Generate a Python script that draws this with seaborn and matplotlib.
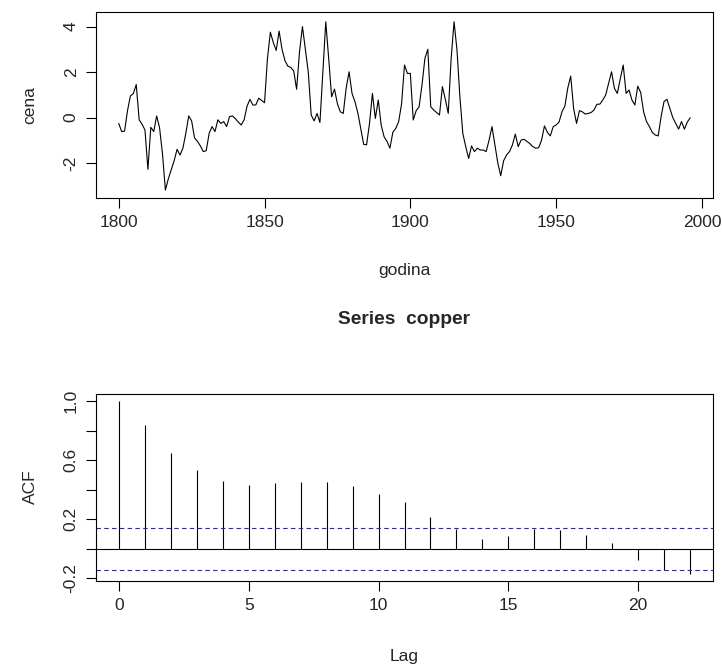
import numpy as np
import pandas as pd
import matplotlib
matplotlib.use("Agg")
import matplotlib.pyplot as plt
import seaborn as sns

# Standardised copper price, one value per year starting in 1800
cena = [
    # 1800-1809
    -0.26, -0.62, -0.60, 0.30, 0.95, 1.05, 1.45, -0.10, -0.30, -0.55,
    # 1810-1819
    -2.28, -0.43, -0.62, 0.07, -0.45, -1.60, -3.19, -2.70, -2.30, -1.90,
    # 1820-1829
    -1.40, -1.65, -1.35, -0.70, 0.07, -0.15, -0.90, -1.05, -1.25, -1.50,
    # 1830-1839
    -1.46, -0.70, -0.40, -0.62, -0.10, -0.26, -0.18, -0.40, 0.04, 0.07,
    # 1840-1849
    -0.05, -0.20, -0.33, -0.10, 0.50, 0.80, 0.55, 0.55, 0.85, 0.75,
    # 1850-1859
    0.65, 2.60, 3.75, 3.30, 2.95, 3.80, 3.00, 2.50, 2.26, 2.20,
    # 1860-1869
    2.05, 1.24, 2.90, 4.00, 3.00, 2.00, 0.11, -0.15, 0.18, -0.22,
    # 1870-1879
    2.00, 4.21, 2.60, 0.91, 1.25, 0.60, 0.25, 0.18, 1.30, 2.01,
    # 1880-1889
    1.06, 0.70, 0.20, -0.50, -1.18, -1.20, -0.26, 1.06, -0.04, 0.77,
    # 1890-1899
    -0.33, -0.85, -1.05, -1.35, -0.65, -0.48, -0.18, 0.60, 2.31, 1.94,
    # 1900-1909
    1.94, -0.11, 0.30, 0.47, 1.43, 2.60, 3.00, 0.47, 0.33, 0.22,
    # 1910-1919
    0.11, 1.36, 0.80, 0.18, 2.60, 4.21, 2.97, 0.90, -0.70, -1.28,
    # 1920-1929
    -1.80, -1.25, -1.50, -1.35, -1.43, -1.43, -1.50, -1.00, -0.40, -1.20,
    # 1930-1939
    -2.00, -2.56, -1.90, -1.65, -1.50, -1.21, -0.73, -1.28, -0.99, -0.96,
    # 1940-1949
    -1.05, -1.15, -1.28, -1.35, -1.33, -1.00, -0.37, -0.65, -0.81, -0.40,
    # 1950-1959
    -0.33, -0.20, 0.25, 0.50, 1.30, 1.82, 0.40, -0.26, 0.30, 0.25,
    # 1960-1969
    0.15, 0.18, 0.22, 0.33, 0.58, 0.59, 0.77, 0.99, 1.50, 2.01,
    # 1970-1979
    1.28, 1.06, 1.70, 2.31, 1.06, 1.21, 0.77, 0.55, 1.38, 1.10,
    # 1980-1989
    0.25, -0.18, -0.40, -0.66, -0.77, -0.81, 0.04, 0.70, 0.80, 0.40,
    # 1990-1996
    0.00, -0.25, -0.51, -0.18, -0.51, -0.20, -0.01,
]
start_year = 1800
godina = np.arange(start_year, start_year + len(cena))

# Sample autocorrelations, lags 0..22
lags = list(range(23))
acf_vals = [1.000, 0.836, 0.650, 0.530, 0.459, 0.432, 0.445, 0.452, 0.452, 0.423,
            0.370, 0.314, 0.218, 0.136, 0.070, 0.086, 0.136, 0.127, 0.093, 0.043,
            -0.073, -0.141, -0.170]
ci = 1.96 / np.sqrt(len(cena))

series_df = pd.DataFrame({"godina": godina, "cena": cena})
acf_df = pd.DataFrame({"lag": lags, "acf": acf_vals})

sns.set_style("white")
plt.rcParams["font.family"] = ["Liberation Sans", "DejaVu Sans"]

W, H = 722, 667
fig = plt.figure(figsize=(W / 100, H / 100), dpi=100)

def px_axes(left, top, right, bottom):
    return fig.add_axes([left / W, 1 - bottom / H, (right - left) / W, (bottom - top) / H])

def px_text(x, y, s, **kw):
    fig.text(x / W, 1 - y / H, s, ha="center", va="center", **kw)

FS = 12.5
LW = 0.8

def r_style(ax):
    for s in ax.spines.values():
        s.set_visible(True)
        s.set_color("black")
        s.set_linewidth(LW)
    ax.tick_params(direction="out", length=7.5, width=LW, color="black",
                   labelsize=FS, pad=5, bottom=True, left=True)
    for lab in ax.get_yticklabels():
        lab.set_rotation(90)
        lab.set_va("center")

# --- time series panel ---
ax1 = px_axes(96, 12, 713, 198)
sns.lineplot(data=series_df, x="godina", y="cena", ax=ax1, color="black", linewidth=LW)
ax1.set_xlim(1792.2, 2003.8)
ax1.set_ylim(-3.54, 4.64)
ax1.set_xticks([1800, 1850, 1900, 1950, 2000])
ax1.set_yticks([-2, 0, 2, 4])
ax1.set_yticklabels(["-2", "0", "2", "4"])
r_style(ax1)
ax1.set_xlabel("")
ax1.set_ylabel("")
px_text(404.5, 270, "godina", fontsize=FS)
px_text(30, 105, "cena", fontsize=FS, rotation=90)

# --- ACF panel ---
ax2 = px_axes(96, 394, 713, 581)
ax2.vlines(acf_df["lag"], 0, acf_df["acf"], color="black", linewidth=LW)
sns.lineplot(x=[-5, 30], y=[0, 0], ax=ax2, color="black", linewidth=LW)
for c in (ci, -ci):
    ax2.axhline(c, color="#2424c8", linewidth=LW, linestyle=(0, (4, 3)))
ax2.set_xlim(-0.88, 22.88)
ax2.set_ylim(-0.217, 1.047)
ax2.set_xticks([0, 5, 10, 15, 20])
yt = [-0.2, 0.0, 0.2, 0.4, 0.6, 0.8, 1.0]
ax2.set_yticks(yt)
ax2.set_yticklabels(["-0.2", "", "0.2", "", "0.6", "", "1.0"])
r_style(ax2)
ax2.set_xlabel("")
ax2.set_ylabel("")
px_text(404.5, 657, "Lag", fontsize=FS)
px_text(30, 487, "ACF", fontsize=FS, rotation=90)
px_text(404.5, 319, "Series  copper", fontsize=13.8, fontweight="bold")

fig.savefig("out.png", dpi=100, facecolor="white")
